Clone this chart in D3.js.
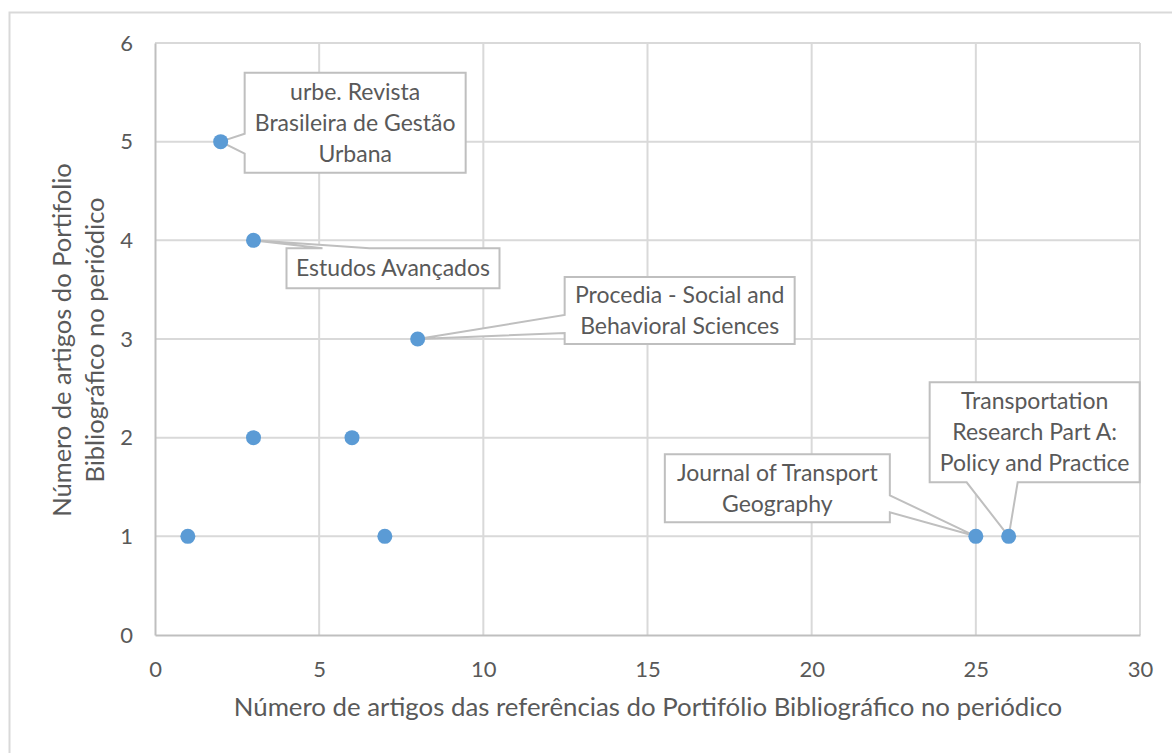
<!DOCTYPE html>
<html><head><meta charset="utf-8">
<script src="https://cdn.jsdelivr.net/npm/d3@7"></script>
<style>body{margin:0;background:#fff;} svg{display:block;}</style>
</head><body>
<svg id="c" width="1172" height="753"></svg>
<script>
// ---- data ----
const xValues = [2, 3, 8, 3, 6, 1, 7, 25, 26];
const yValues = [5, 4, 3, 2, 2, 1, 1, 1, 1];
const pointLabels = [
  ["urbe. Revista", "Brasileira de Gestão", "Urbana"],
  ["Estudos Avançados"],
  ["Procedia - Social and", "Behavioral Sciences"],
  null, null, null, null,
  ["Journal of Transport", "Geography"],
  ["Transportation", "Research Part A:", "Policy and Practice"]
];
const xTicks = [0, 5, 10, 15, 20, 25, 30];
const yTicks = [0, 1, 2, 3, 4, 5, 6];
const xTitle = "Número de artigos das referências do Portifólio Bibliográfico no periódico";
const yTitle = ["Número de artigos do Portifolio", "Bibliográfico no periódico"];

// ---- layout (callout boxes relative to their point, in px) ----
const calloutLayout = {
  0: {dx: 24, dy: -69, w: 221, h: 100, side: "left", a: 61, b: 81},
  1: {dx: 33, dy: 8, w: 213, h: 40, side: "top", a: 36, b: 83},
  2: {dx: 147, dy: -62, w: 230, h: 67, side: "left", a: 38, b: 56},
  7: {dx: -311, dy: -82, w: 225, h: 68, side: "right", a: 41, b: 58},
  8: {dx: -79, dy: -154, w: 210, h: 100, side: "bottom", a: 37, b: 88}
};

const FONT = "Lato, 'Open Sans', sans-serif";
const TXT = "#595959";
const svg = d3.select("#c");
svg.append("rect").attr("x", 9.5).attr("y", 12.5).attr("width", 1300).attr("height", 900)
  .attr("fill", "#fff").attr("stroke", "#d9d9d9").attr("stroke-width", 2);

const L = 155, R = 1140, T = 43, B = 635;
const x = d3.scaleLinear().domain([0, 30]).range([L, R]);
const y = d3.scaleLinear().domain([0, 6]).range([B, T]);

// gridlines
const g = svg.append("g");
g.selectAll(".vg").data(xTicks.filter(d => d > 0)).join("line")
  .attr("x1", d => x(d)).attr("x2", d => x(d)).attr("y1", T).attr("y2", B)
  .attr("stroke", "#d9d9d9").attr("stroke-width", 2);
g.selectAll(".hg").data(yTicks.filter(d => d > 0)).join("line")
  .attr("y1", d => y(d)).attr("y2", d => y(d)).attr("x1", L).attr("x2", R)
  .attr("stroke", "#d9d9d9").attr("stroke-width", 2);

// axes
const xAxis = d3.axisBottom(x).tickValues(xTicks).tickFormat(d3.format("d")).tickSize(0).tickPadding(26);
const yAxis = d3.axisLeft(y).tickValues(yTicks).tickFormat(d3.format("d")).tickSize(0).tickPadding(22);
const gx = svg.append("g").attr("transform", `translate(0,${B})`).call(xAxis);
const gy = svg.append("g").attr("transform", `translate(${L},0)`).call(yAxis);
[gx, gy].forEach(a => {
  a.select(".domain").attr("stroke", "#bfbfbf").attr("stroke-width", 2);
  a.selectAll("text").attr("fill", TXT).style("font-family", FONT).style("font-size", "22px");
});

// titles
svg.append("text").attr("x", 648).attr("y", 716).attr("text-anchor", "middle")
  .attr("fill", TXT).style("font-family", FONT).style("font-size", "25.8px").text(xTitle);
const yt = svg.append("text").attr("transform", "translate(0,340) rotate(-90)")
  .attr("text-anchor", "middle").attr("fill", TXT).style("font-family", FONT).style("font-size", "25.5px");
yTitle.forEach((t, i) => yt.append("tspan").attr("x", 0).attr("y", 71 + i * 33).text(t));

// callouts
function calloutPath(px, py, c) {
  const x0 = px + c.dx, y0 = py + c.dy, x1 = x0 + c.w, y1 = y0 + c.h;
  const p = d3.path();
  p.moveTo(x0, y0);
  if (c.side === "top") { p.lineTo(x0 + c.a, y0); p.lineTo(px, py); p.lineTo(x0 + c.b, y0); }
  p.lineTo(x1, y0);
  if (c.side === "right") { p.lineTo(x1, y0 + c.a); p.lineTo(px, py); p.lineTo(x1, y0 + c.b); }
  p.lineTo(x1, y1);
  if (c.side === "bottom") { p.lineTo(x0 + c.b, y1); p.lineTo(px, py); p.lineTo(x0 + c.a, y1); }
  p.lineTo(x0, y1);
  if (c.side === "left") { p.lineTo(x0, y0 + c.b); p.lineTo(px, py); p.lineTo(x0, y0 + c.a); }
  p.closePath();
  return p.toString();
}
const data = xValues.map((v, i) => ({x: v, y: yValues[i], label: pointLabels[i], i}));
const cg = svg.append("g");
data.filter(d => d.label).forEach(d => {
  const c = calloutLayout[d.i];
  const px = x(d.x), py = y(d.y);
  cg.append("path").attr("d", calloutPath(px, py, c)).attr("fill", "#fff")
    .attr("stroke", "#bfbfbf").attr("stroke-width", 2).attr("stroke-linejoin", "miter");
  const cx = px + c.dx + c.w / 2, cy = py + c.dy + c.h / 2;
  const n = d.label.length, lh = 31;
  d.label.forEach((t, k) => {
    cg.append("text").attr("x", cx).attr("y", cy + (k - (n - 1) / 2) * lh + 8)
      .attr("text-anchor", "middle").attr("fill", TXT)
      .style("font-family", FONT).style("font-size", "23px").text(t);
  });
});

// points
svg.append("g").selectAll("circle").data(data).join("circle")
  .attr("cx", d => x(d.x)).attr("cy", d => y(d.y)).attr("r", 7.5)
  .attr("fill", "#5b9bd5");
</script>
</body></html>
